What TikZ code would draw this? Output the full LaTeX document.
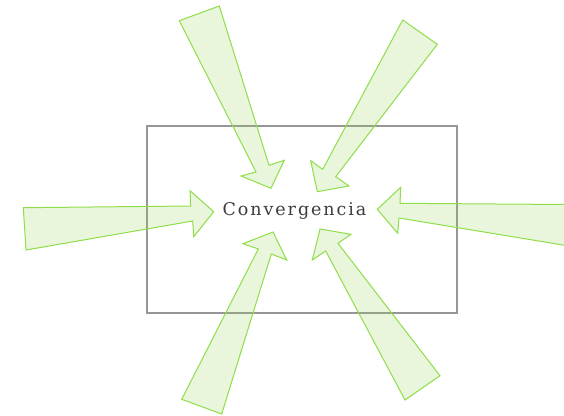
\documentclass[tikz,border=0pt]{standalone}
\usepackage{fontspec}
\newfontfamily\convfont[LetterSpace=11]{DejaVu Serif}
\definecolor{arrowfill}{RGB}{146,208,80}
\definecolor{arrowline}{RGB}{142,222,72}
\definecolor{boxline}{RGB}{150,150,150}
\definecolor{txt}{RGB}{60,60,60}
\tikzset{
  convarrow/.style={draw=arrowline, line width=1pt, line join=miter, fill=arrowfill, fill opacity=0.2},
  framebox/.style={draw=boxline, line width=1.5pt},
  label/.style={text=txt, font=\convfont\fontsize{17.5}{21}\selectfont, inner sep=0pt}
}
\begin{document}
\begin{tikzpicture}[x=1pt,y=-1pt]
\useasboundingbox (0,0) rectangle (564,415);
\draw[framebox] (147,126) rectangle (457,313);
% top-left
\draw[convarrow] (179.3,20.7) -- (256,172) -- (241,176) -- (271,188.3) -- (284.3,160.3) -- (269,165.3) -- (219.3,6) -- cycle;
% top-right
\draw[convarrow] (402.7,20) -- (322.7,169.3) -- (310.7,160.7) -- (317.3,191.7) -- (349,186) -- (335.7,176.7) -- (437.3,44.3) -- cycle;
% left
\draw[convarrow] (23.3,207.7) -- (190.7,206) -- (190,190.7) -- (213.7,211.7) -- (193.7,236.7) -- (192.7,221) -- (26,250) -- cycle;
% right
\draw[convarrow] (566,204.5) -- (400,203.3) -- (400.7,187.3) -- (377.3,209.3) -- (397.7,233.3) -- (399,218) -- (566,245.5) -- cycle;
% bottom-left
\draw[convarrow] (181.7,399.3) -- (258.3,249) -- (243,243.7) -- (273,232) -- (286.7,260) -- (271.3,254) -- (221.7,414) -- cycle;
% bottom-right
\draw[convarrow] (405,400) -- (325.7,251) -- (312.3,260) -- (320,229) -- (351,234.3) -- (338,243.3) -- (440,375.7) -- cycle;
\node[label, anchor=base] (conv) at (294.5,215) {Convergencia};
\end{tikzpicture}
\end{document}
